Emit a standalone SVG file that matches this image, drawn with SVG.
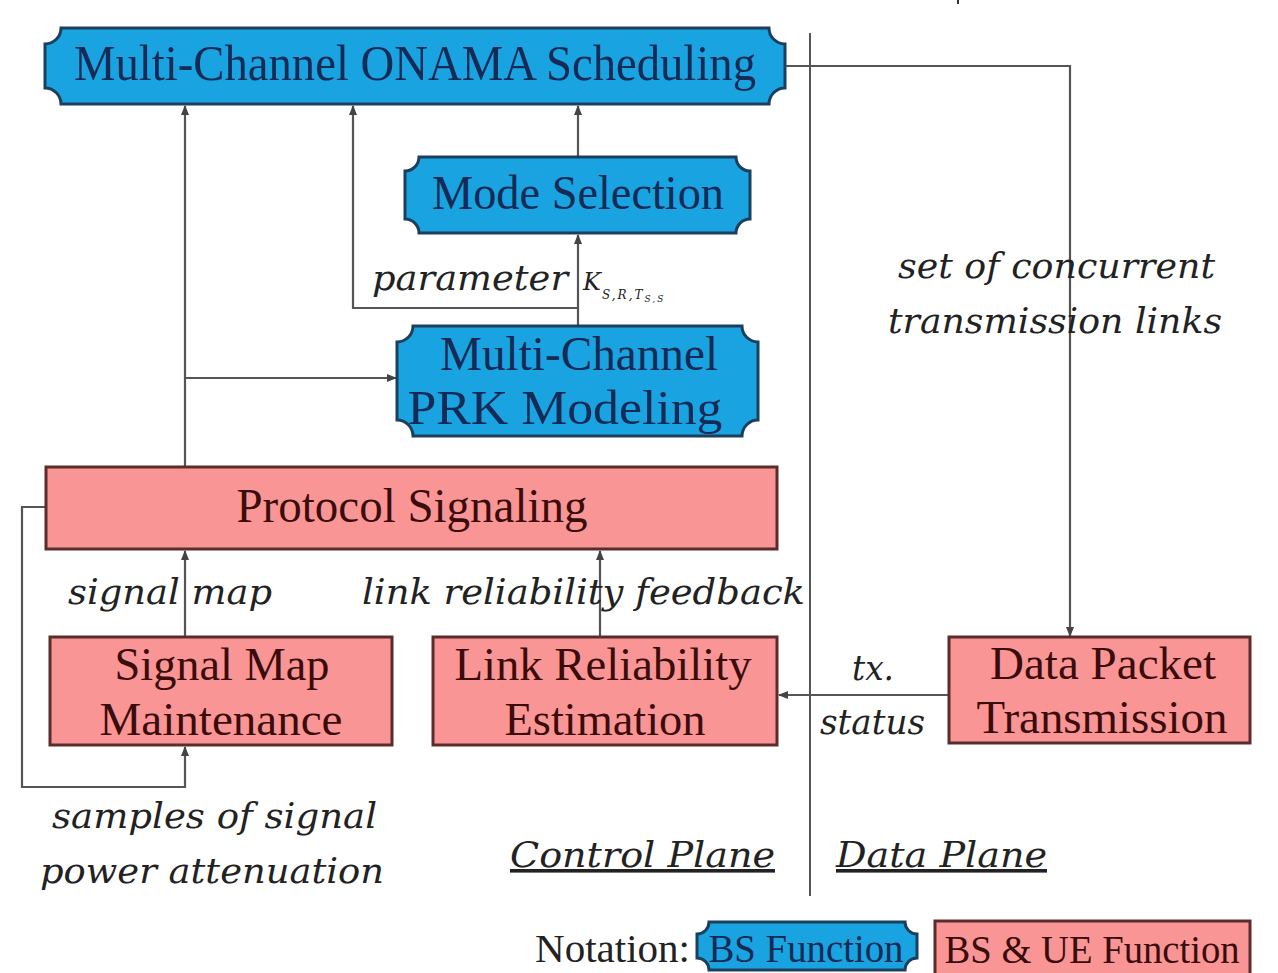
<svg xmlns="http://www.w3.org/2000/svg" width="1278" height="973" viewBox="0 0 1278 973">
<defs>
<style>
.bs{fill:#19a3e0;stroke:#1c3f5e;stroke-width:3}
.ue{fill:#fa9595;stroke:#5a2c2c;stroke-width:3}
.bt{font-family:"Liberation Serif",serif;fill:#152a55;text-anchor:middle}
.ut{font-family:"Liberation Serif",serif;fill:#3a0c0c;text-anchor:middle}
.lb{font-family:"DejaVu Serif",serif;font-style:italic;fill:#222}
.ln{fill:none;stroke:#555;stroke-width:2.2}
</style>
<marker id="ah" viewBox="0 0 10 10" refX="9" refY="5" markerWidth="10" markerHeight="10" markerUnits="userSpaceOnUse" orient="auto">
<path d="M0,1 L10,5 L0,9 Z" fill="#444"/>
</marker>
</defs>
<rect width="1278" height="973" fill="#fff"/>

<g id="dividers">
<line x1="810" y1="33" x2="810" y2="896" stroke="#555" stroke-width="2"/>
<line x1="958" y1="0" x2="958" y2="4" stroke="#333" stroke-width="2"/>
</g>

<g id="connectors">
<polyline class="ln" points="785,66 1070,66 1070,636" marker-end="url(#ah)"/>
<polyline class="ln" points="185,467 185,106" marker-end="url(#ah)"/>
<polyline class="ln" points="185,378 396,378" marker-end="url(#ah)"/>
<polyline class="ln" points="578,326 578,235" marker-end="url(#ah)"/>
<polyline class="ln" points="578,308 353,308 353,106" marker-end="url(#ah)"/>
<polyline class="ln" points="578,157 578,106" marker-end="url(#ah)"/>
<polyline class="ln" points="185,637 185,551" marker-end="url(#ah)"/>
<polyline class="ln" points="600,637 600,551" marker-end="url(#ah)"/>
<polyline class="ln" points="949,695 779,695" marker-end="url(#ah)"/>
<polyline class="ln" points="46,507 22,507 22,787 185,787 185,747" marker-end="url(#ah)"/>
</g>

<g id="n-onama">
<path class="bs" d="M61,28 H769 A16,16 0 0 0 785,44 V88 A16,16 0 0 0 769,104 H61 A16,16 0 0 0 45,88 V44 A16,16 0 0 0 61,28 Z"/>
<text class="bt" x="415" y="80" font-size="50" textLength="682" lengthAdjust="spacingAndGlyphs">Multi-Channel ONAMA Scheduling</text>
</g>

<g id="n-mode">
<path class="bs" d="M419,157 H736 A14,14 0 0 0 750,171 V219 A14,14 0 0 0 736,233 H419 A14,14 0 0 0 405,219 V171 A14,14 0 0 0 419,157 Z"/>
<text class="bt" x="578" y="209" font-size="48" textLength="292" lengthAdjust="spacingAndGlyphs">Mode Selection</text>
</g>

<g id="n-prk">
<path class="bs" d="M413,326 H742 A16,16 0 0 0 758,342 V420 A16,16 0 0 0 742,436 H413 A16,16 0 0 0 397,420 V342 A16,16 0 0 0 413,326 Z"/>
<text class="bt" x="579" y="370" font-size="48" textLength="278" lengthAdjust="spacingAndGlyphs">Multi-Channel</text>
<text class="bt" x="565" y="424" font-size="48" textLength="315" lengthAdjust="spacingAndGlyphs">PRK Modeling</text>
</g>

<g id="n-protocol">
<rect class="ue" x="46" y="467" width="731" height="82"/>
<text class="ut" x="412" y="522" font-size="48" textLength="351" lengthAdjust="spacingAndGlyphs">Protocol Signaling</text>
</g>

<g id="n-signalmap">
<rect class="ue" x="50" y="637" width="342" height="108"/>
<text class="ut" x="222" y="680" font-size="46" textLength="215" lengthAdjust="spacingAndGlyphs">Signal Map</text>
<text class="ut" x="221" y="735" font-size="46" textLength="243" lengthAdjust="spacingAndGlyphs">Maintenance</text>
</g>

<g id="n-linkrel">
<rect class="ue" x="433" y="637" width="344" height="108"/>
<text class="ut" x="603" y="680" font-size="46" textLength="297" lengthAdjust="spacingAndGlyphs">Link Reliability</text>
<text class="ut" x="605" y="735" font-size="46" textLength="201" lengthAdjust="spacingAndGlyphs">Estimation</text>
</g>

<g id="n-datapacket">
<rect class="ue" x="949" y="637" width="301" height="106"/>
<text class="ut" x="1103" y="679" font-size="46" textLength="226" lengthAdjust="spacingAndGlyphs">Data Packet</text>
<text class="ut" x="1102" y="733" font-size="46" textLength="251" lengthAdjust="spacingAndGlyphs">Transmission</text>
</g>

<g id="labels">
<text class="lb" x="372" y="290" font-size="36" textLength="196" lengthAdjust="spacingAndGlyphs">parameter</text>
<text class="lb" x="583" y="290" font-size="24">K</text>
<text class="lb" x="602" y="299" font-size="12" letter-spacing="2">S,R,T<tspan font-size="9" dy="3">S,S</tspan></text>
<text class="lb" x="898" y="278" font-size="36" textLength="317" lengthAdjust="spacingAndGlyphs">set of concurrent</text>
<text class="lb" x="888" y="333" font-size="36" textLength="334" lengthAdjust="spacingAndGlyphs">transmission links</text>
<text class="lb" x="68" y="604" font-size="36" textLength="204" lengthAdjust="spacingAndGlyphs">signal map</text>
<text class="lb" x="362" y="604" font-size="36" textLength="443" lengthAdjust="spacingAndGlyphs">link reliability feedback</text>
<text class="lb" x="852" y="680" font-size="36" textLength="42" lengthAdjust="spacingAndGlyphs">tx.</text>
<text class="lb" x="820" y="734" font-size="36" textLength="105" lengthAdjust="spacingAndGlyphs">status</text>
<text class="lb" x="52" y="828" font-size="36" textLength="325" lengthAdjust="spacingAndGlyphs">samples of signal</text>
<text class="lb" x="40" y="883" font-size="36" textLength="344" lengthAdjust="spacingAndGlyphs">power attenuation</text>
<text class="lb" x="510" y="867" font-size="36" textLength="265" lengthAdjust="spacingAndGlyphs" text-decoration="underline">Control Plane</text>
<text class="lb" x="836" y="867" font-size="36" textLength="211" lengthAdjust="spacingAndGlyphs" text-decoration="underline">Data Plane</text>
</g>

<g id="legend">
<text x="535" y="962" font-family="Liberation Serif, serif" font-size="40" fill="#222" textLength="155" lengthAdjust="spacingAndGlyphs">Notation:</text>
<path class="bs" d="M709,922 H905 A12,12 0 0 0 917,934 V958 A12,12 0 0 0 905,970 H709 A12,12 0 0 0 697,958 V934 A12,12 0 0 0 709,922 Z"/>
<text class="bt" x="806" y="962" font-size="40" textLength="195" lengthAdjust="spacingAndGlyphs">BS Function</text>
<rect class="ue" x="935" y="921" width="315" height="54"/>
<text class="ut" x="1092" y="963" font-size="40" textLength="295" lengthAdjust="spacingAndGlyphs">BS &amp; UE Function</text>
</g>
</svg>
